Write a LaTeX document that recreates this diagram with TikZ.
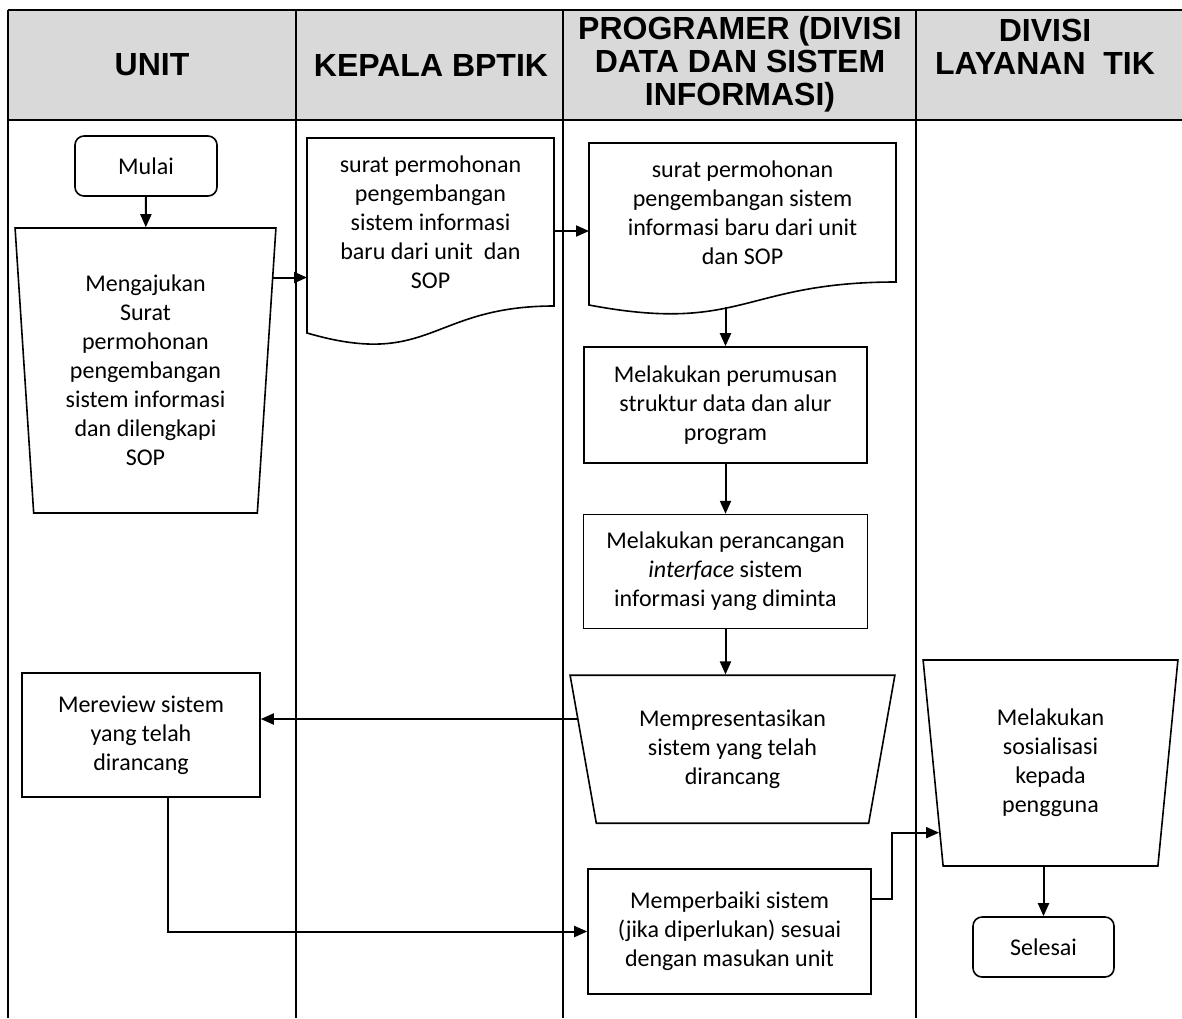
\documentclass[tikz,border=0pt]{standalone}
\usepackage{fontspec}
\setmainfont{Carlito}
\newfontfamily\headfont{Liberation Sans}
\usetikzlibrary{shapes.geometric,arrows.meta,calc,positioning}

\begin{document}
\begin{tikzpicture}[x=1pt,y=-1pt,line width=2pt,>={Triangle[length=13pt,width=11pt]},
  font=\fontsize{24}{29}\selectfont]

\tikzstyle{proc}=[draw,line width=1.6pt,rectangle,align=center,inner sep=4pt]
\tikzstyle{term}=[proc,rounded corners=9pt]
\tikzstyle{manual}=[draw,line width=1.6pt,trapezium,shape border rotate=180,trapezium stretches=true,align=center,inner sep=2pt]
\tikzstyle{doc}=[rectangle,align=center,inner sep=4pt]
\tikzstyle{head}=[font=\headfont\bfseries\fontsize{32}{33}\selectfont,align=center]

\useasboundingbox (0,0) rectangle (1182,1018);

% lanes
\fill[gray!30] (8,10) rectangle (1182,120);
\draw (8,10) -- (1182,10) (8,120) -- (1182,120);
\foreach \x in {8,296,563,916} \draw (\x,10) -- (\x,1018);

\node[head] (hUnit)    at (152,65) {UNIT};
\node[head] (hKepala)  at (431,65) {KEPALA BPTIK};
\node[head] (hProg)    at (740,64) {PROGRAMER (DIVISI\\DATA DAN SISTEM\\INFORMASI)};
\node[head] (hLayanan) at (1045,47) {DIVISI\\LAYANAN\ \ TIK};

% steps
\node[term,minimum width=142pt,minimum height=60pt] (mulai) at (146,166) {Mulai};
\node[manual,minimum width=261pt,minimum height=285pt,trapezium left angle=86,trapezium right angle=86] (ajukan) at (145.5,370.5)
  {Mengajukan\\Surat\\permohonan\\pengembangan\\sistem informasi\\dan dilengkapi\\SOP};
\node[doc,minimum width=245pt,minimum height=166pt] (surat1) at (430.5,222)
  {surat permohonan\\pengembangan\\sistem informasi\\baru dari unit\ \ dan\\SOP};
\node[doc,minimum width=305pt,minimum height=137pt] (surat2) at (742.5,212.5)
  {surat permohonan\\pengembangan sistem\\informasi baru dari unit\\dan SOP};
\node[proc,minimum width=283pt,minimum height=116pt] (rumus) at (725.5,405)
  {Melakukan perumusan\\struktur data dan alur\\program};
\node[proc,minimum width=284pt,minimum height=114pt,below=50pt of rumus] (rancang)
  {Melakukan perancangan\\\textit{interface} sistem\\informasi yang diminta};
\node[manual,minimum width=325pt,minimum height=148pt,trapezium left angle=77.5,trapezium right angle=77.5,below=45pt of rancang,xshift=7pt] (presentasi)
  {Mempresentasikan\\sistem yang telah\\dirancang};
\node[proc,minimum width=238pt,minimum height=124pt] (review) at (141,735) {Mereview sistem\\yang telah\\dirancang};
\node[proc,minimum width=283pt,minimum height=125pt] (perbaiki) at (729.5,931.5)
  {Memperbaiki sistem\\(jika diperlukan) sesuai\\dengan masukan unit};
\node[manual,minimum width=255pt,minimum height=206pt,trapezium left angle=84.7,trapezium right angle=84.7] (sosialisasi) at (1050.5,763)
  {Melakukan\\sosialisasi\\kepada\\pengguna};
\node[term,minimum width=141pt,minimum height=60pt] (selesai) at (1043.5,947) {Selesai};

% document outlines
\draw[line width=1.6pt] (surat1.north west) -- (surat1.north east) -- (surat1.south east)
  .. controls (surat1.south) and ($(surat1.south)+(0,63)$) .. ($(surat1.south west)+(0,27)$) -- cycle;
\draw[line width=1.6pt] (surat2.north west) -- (surat2.north east) -- (surat2.south east)
  .. controls (surat2.south) and ($(surat2.south)+(0,52)$) .. ($(surat2.south west)+(0,23)$) -- cycle;

\coordinate (wave2) at ([yshift=-25pt]rumus.north |- surat2.south);

% flow
\path[->] (mulai) edge (ajukan)
          (wave2) edge (rumus)
          (rumus) edge (rancang);
\draw[->] (ajukan.36) -- (ajukan.36 -| surat1.west);
\draw[->] ([yshift=-9pt]surat1.east) -- ([yshift=-9pt]surat1.east -| surat2.west);
\draw[->] (rancang.south) -- (rancang.south |- presentasi.north);
\draw[->] (presentasi.169) -- (presentasi.169 -| review.east);
\draw[->] ([xshift=27pt]review.south) |- (perbaiki.west);
\draw[->] ([yshift=33pt]perbaiki.east) -- ++(20,0) |- (sosialisasi.212);
\draw[->] (selesai.north |- sosialisasi.south) -- (selesai.north);
\end{tikzpicture}
\end{document}
